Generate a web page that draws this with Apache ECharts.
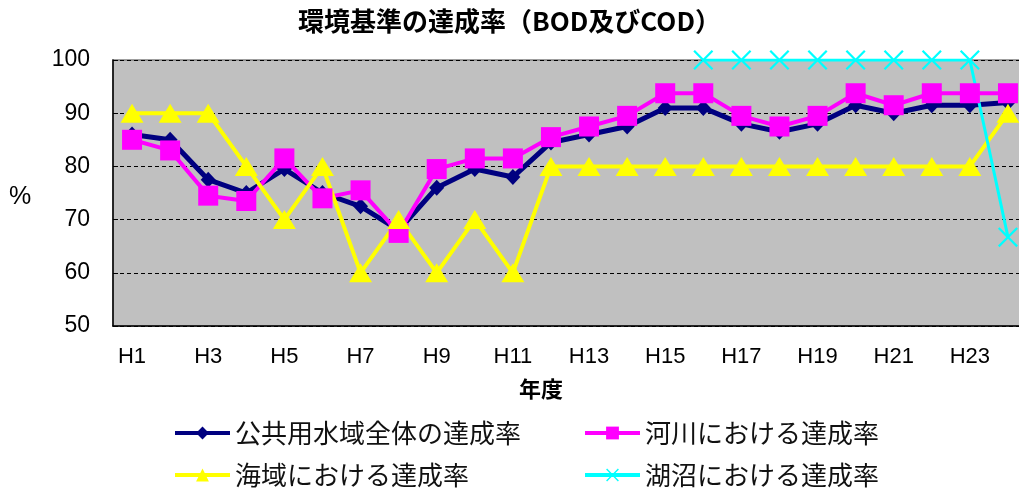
<!DOCTYPE html>
<html><head><meta charset="utf-8">
<script src="https://cdn.jsdelivr.net/npm/echarts@6/dist/echarts.min.js"></script>
<style>html,body{margin:0;padding:0;background:#fff}#c{width:1019px;height:488px}</style>
</head><body><div id="c"></div>
<script>
const categories = ['H1','H2','H3','H4','H5','H6','H7','H8','H9','H10','H11','H12','H13','H14','H15','H16','H17','H18','H19','H20','H21','H22','H23','H24'];
const totalRate = [86, 85, 77.5, 75, 79.5, 75, 72.5, 68, 76, 79.5, 78, 84.5, 86, 87.5, 91, 91, 88, 86.5, 88, 91.5, 90, 91.5, 91.5, 92];
const riverRate = [85, 83, 74.5, 73.5, 81.5, 74, 75.5, 67.5, 79.5, 81.5, 81.5, 85.5, 87.5, 89.5, 93.75, 93.75, 89.5, 87.5, 89.5, 93.75, 91.5, 93.75, 93.75, 93.75];
const seaRate = [90, 90, 90, 80, 70, 80, 60, 70, 60, 70, 60, 80, 80, 80, 80, 80, 80, 80, 80, 80, 80, 80, 80, 90];
const lakeRate = [null, null, null, null, null, null, null, null, null, null, null, null, null, null, null, 100, 100, 100, 100, 100, 100, 100, 100, 66.7];
const seriesNames = ['公共用水域全体の達成率', '河川における達成率', '海域における達成率', '湖沼における達成率'];
const yTicks = [50, 60, 70, 80, 90, 100];

const crossPath = 'path://M0,0.8L0.8,0L5,4.2L9.2,0L10,0.8L5.8,5L10,9.2L9.2,10L5,5.8L0.8,10L0,9.2L4.2,5Z';
const chart = echarts.init(document.getElementById('c'));
const legendText = {fontFamily: '"Noto Sans CJK JP"', fontSize: 26, color: '#111', fontWeight: 'normal'};
function leg(name, left, top) {
  return {data: [name], left: left, top: top, padding: 0, itemWidth: 55, itemHeight: 16, itemGap: 0,
    lineStyle: {width: 4}, textStyle: legendText, selectedMode: false};
}
chart.setOption({
  animation: false,
  backgroundColor: '#fff',
  title: [
    {text: '環境基準の達成率（BOD及びCOD）', left: 'center', top: 3,
      textStyle: {fontFamily: '"Noto Sans CJK JP"', fontSize: 26, fontWeight: 'bold', color: '#000'}},
    {text: '%', left: 4, top: 180, padding: 5,
      textStyle: {fontFamily: '"Liberation Sans", Arial', fontSize: 25, fontWeight: 'normal', color: '#000'}}
  ],
  legend: [leg(seriesNames[0], 173, 420), leg(seriesNames[1], 583, 420), leg(seriesNames[2], 173, 462), leg(seriesNames[3], 583, 462)],
  grid: {left: 113, top: 60, right: -8, bottom: 162, show: true, backgroundColor: '#C0C0C0',
    borderColor: '#808080', borderWidth: 1.5, outerBoundsMode: 'none', containLabel: false},
  xAxis: {type: 'category', data: categories, boundaryGap: true,
    name: '年度', nameLocation: 'middle', nameGap: 52,
    nameTextStyle: {fontFamily: '"Noto Sans CJK JP"', fontSize: 22, fontWeight: 'bold', color: '#000', padding: [0, 58, 0, 0]},
    axisLine: {lineStyle: {color: '#000', width: 1.5}},
    axisTick: {inside: true, length: 7, lineStyle: {color: '#000'}, interval: 0},
    axisLabel: {interval: 1, margin: 20, fontFamily: '"Liberation Sans", Arial', fontSize: 22, color: '#000'}
  },
  yAxis: {type: 'value', min: yTicks[0], max: yTicks[yTicks.length - 1], interval: 10,
    axisLine: {show: true, lineStyle: {color: '#000', width: 1.5}},
    axisTick: {show: true, inside: true, length: 5, lineStyle: {color: '#000'}},
    axisLabel: {margin: 23, fontFamily: '"Liberation Sans", Arial', fontSize: 23, color: '#000'},
    splitLine: {show: true, lineStyle: {color: '#000', type: [4, 3], width: 1}}
  },
  series: [
    {name: seriesNames[0], type: 'line', data: totalRate, symbol: 'diamond', symbolSize: [15, 16],
      lineStyle: {color: '#000080', width: 5}, itemStyle: {color: '#000080'}},
    {name: seriesNames[1], type: 'line', data: riverRate, symbol: 'rect', symbolSize: 20,
      lineStyle: {color: '#FF00FF', width: 4}, itemStyle: {color: '#FF00FF'}},
    {name: seriesNames[2], type: 'line', data: seaRate, symbol: 'triangle', symbolSize: [23, 19],
      lineStyle: {color: '#FFFF00', width: 4}, itemStyle: {color: '#FFFF00'}},
    {name: seriesNames[3], type: 'line', data: lakeRate, symbol: crossPath, symbolSize: 20,
      lineStyle: {color: '#00FFFF', width: 3}, itemStyle: {color: '#00FFFF'}}
  ]
});
</script></body></html>
